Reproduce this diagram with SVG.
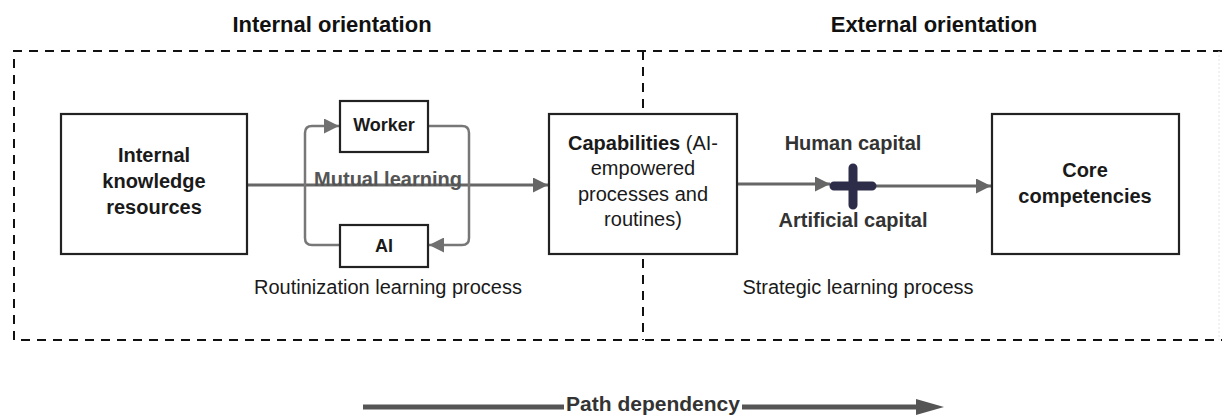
<svg xmlns="http://www.w3.org/2000/svg" width="1222" height="417" viewBox="0 0 1222 417">
<style>
.box{fill:#fff;stroke:#222;stroke-width:2.2}
.t{font-family:"Liberation Sans",Arial,sans-serif;font-size:20px;fill:#1a1a1a;text-anchor:middle}
.b{font-weight:bold}
.h{font-family:"Liberation Sans",Arial,sans-serif;font-size:22px;font-weight:bold;fill:#111;text-anchor:middle}
.dash{fill:none;stroke:#111;stroke-width:2;stroke-dasharray:9 7}
.arr{fill:none;stroke:#666;stroke-width:3}
.loop{fill:none;stroke:#777;stroke-width:2.5}
</style>
<defs>
<marker id="ah" viewBox="0 0 10 10" refX="10" refY="5" markerWidth="7" markerHeight="5" markerUnits="strokeWidth" orient="auto">
<path d="M0,0 L10,5 L0,10 z" fill="#666"/>
</marker>
<marker id="ahl" viewBox="0 0 10 10" refX="10" refY="5" markerWidth="8" markerHeight="6" markerUnits="strokeWidth" orient="auto">
<path d="M0,0 L10,5 L0,10 z" fill="#707070"/>
</marker>
</defs>

<g id="headers">
<text class="h" x="332" y="32">Internal orientation</text>
<text class="h" x="934" y="32">External orientation</text>
</g>

<g id="frame">
<path class="dash" d="M1222,51 H14 V340 H1222"/>
<line class="dash" x1="643" y1="51" x2="643" y2="340"/>
<line x1="1219" y1="51" x2="1219" y2="340" stroke="#e4e4e4" stroke-width="1" stroke-dasharray="2 2"/>
</g>

<g id="connectors">
<line class="arr" x1="247" y1="185" x2="548" y2="185" marker-end="url(#ah)"/>
<path class="loop" d="M428,126 H462 Q469,126 469,133 V238 Q469,245 462,245 H429" marker-end="url(#ahl)"/>
<path class="loop" d="M340,245 H312 Q305,245 305,238 V133 Q305,126 312,126 H339" marker-end="url(#ahl)"/>
<line class="arr" x1="737" y1="184" x2="830" y2="184" marker-end="url(#ah)"/>
<line class="arr" x1="873" y1="186" x2="991" y2="186" marker-end="url(#ah)"/>
<line x1="363" y1="407" x2="564" y2="407" stroke="#555" stroke-width="5"/>
<line x1="742" y1="407" x2="920" y2="407" stroke="#555" stroke-width="5"/>
<path d="M916,399 L944,407 L916,415 z" fill="#555"/>
</g>

<g id="node-internal">
<rect class="box" x="61" y="114" width="186" height="140"/>
<text class="t b" x="154" y="162">Internal</text>
<text class="t b" x="154" y="188">knowledge</text>
<text class="t b" x="154" y="214">resources</text>
</g>

<g id="node-worker">
<rect class="box" x="340" y="101" width="88" height="51"/>
<text class="t b" x="384" y="131" style="font-size:18px">Worker</text>
</g>

<g id="node-ai">
<rect class="box" x="340" y="225" width="88" height="42"/>
<text class="t b" x="384" y="252" style="font-size:18px">AI</text>
</g>

<g id="label-mutual">
<text class="t b" x="388" y="186" style="fill:#555">Mutual learning</text>
</g>

<g id="label-routinization">
<text class="t" x="388" y="294">Routinization learning process</text>
</g>

<g id="node-capabilities">
<rect class="box" x="549" y="114" width="188" height="140"/>
<text class="t" x="643" y="150"><tspan class="b">Capabilities</tspan> (AI-</text>
<text class="t" x="643" y="175">empowered</text>
<text class="t" x="643" y="201">processes and</text>
<text class="t" x="643" y="226">routines)</text>
</g>

<g id="node-plus">
<text class="t b" x="853" y="150" style="fill:#333">Human capital</text>
<path d="M834,186 H872 M853,168 V205" stroke="#2d2d4a" stroke-width="9" stroke-linecap="round" fill="none"/>
<text class="t b" x="853" y="227" style="fill:#333">Artificial capital</text>
</g>

<g id="label-strategic">
<text class="t" x="858" y="294">Strategic learning process</text>
</g>

<g id="node-core">
<rect class="box" x="992" y="114" width="187" height="140"/>
<text class="t b" x="1085" y="177">Core</text>
<text class="t b" x="1085" y="203">competencies</text>
</g>

<g id="label-path">
<text class="h" x="653" y="411" style="fill:#333;font-size:21px">Path dependency</text>
</g>
</svg>
